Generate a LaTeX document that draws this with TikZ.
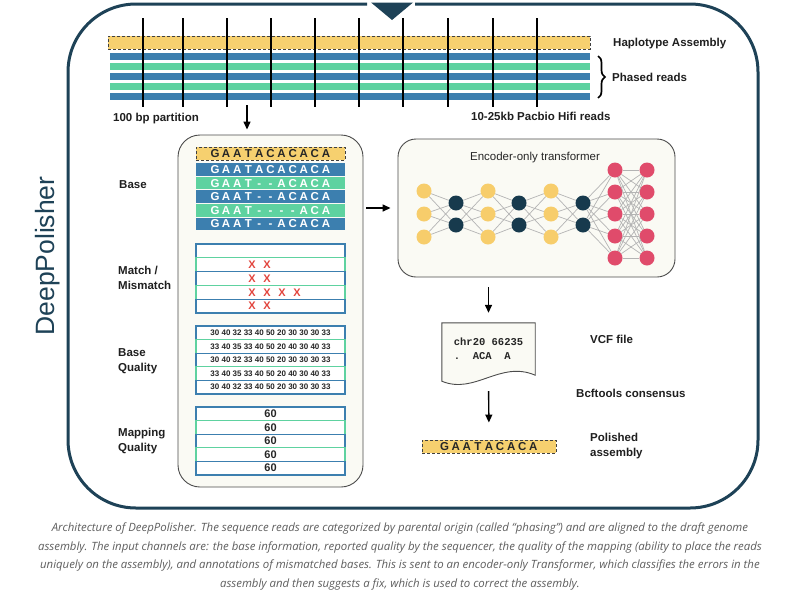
\documentclass[tikz,border=0pt]{standalone}
\usepackage{fontspec}
\setmainfont{Liberation Sans}
\setmonofont{Liberation Mono}
\newfontfamily\capfont{Open Sans}
\usetikzlibrary{arrows.meta,decorations.pathreplacing,calc}
\definecolor{navy}{HTML}{1E4257}
\definecolor{rblue}{HTML}{3C7FAF}
\definecolor{rgreen}{HTML}{5ED2A0}
\definecolor{hapy}{HTML}{F6D06F}
\definecolor{nny}{HTML}{F7CD6B}
\definecolor{nnd}{HTML}{173A4D}
\definecolor{nnp}{HTML}{E04B6B}
\definecolor{cream}{HTML}{FAFAF4}
\definecolor{xred}{HTML}{E2453D}
\definecolor{capgray}{HTML}{5E5E5E}
\definecolor{edgegray}{HTML}{B4B4B4}
\newlength\slotw
\setlength\slotw{11.1pt}
\def\seqloop#1{\ifx#1\relax\else\makebox[\slotw]{#1}\expandafter\seqloop\fi}
\newcommand\seqtxt[1]{\seqloop#1\relax}
\tikzset{
  lbl/.style={anchor=west, font=\bfseries\fontsize{11.5}{15}\selectfont, text=black!88, inner sep=0, align=left},
  arr/.style={-{Triangle[length=8pt,width=7pt]}, line width=1.4pt, black},
  partline/.style={line width=1.6pt, black},
  hapbar/.style={draw=black!75, dash pattern=on 3pt off 2pt, fill=hapy, line width=0.9pt, inner sep=0},
  readbar/.style={inner sep=0, minimum width=480, minimum height=7},
  seqfont/.style={font=\bfseries\fontsize{11.5}{12}\selectfont},
  seqrow/.style={inner sep=0, minimum width=149, minimum height=12.6, text=white, seqfont},
  outrow/.style={inner sep=0, minimum width=149, minimum height=13.8, fill=white, line width=1.3pt},
  qtxt/.style={font=\bfseries\fontsize{8}{10}\selectfont, text=black!85},
  mtxt/.style={font=\bfseries\fontsize{11}{12}\selectfont, text=black!85},
  xmk/.style={font=\bfseries\fontsize{11}{12}\selectfont, text=xred, inner sep=0},
  panelbox/.style={draw=black!70, fill=cream, line width=0.9pt, inner sep=0},
  neur/.style={circle, inner sep=0, minimum size=15},
  nnedge/.style={draw=edgegray, line width=0.7pt},
}
\begin{document}
\begin{tikzpicture}[x=1pt,y=-1pt]
\useasboundingbox (0,0) rectangle (800,600);
\fill[white] (0,0) rectangle (800,600);

% outer frame with pointer
\draw[line width=3pt, navy, rounded corners=68pt] (367,4) -- (68,4) -- (68,508) -- (758,508) -- (758,4) -- (415,4);
\fill[navy] (371,2.5) -- (413,2.5) -- (392,20) -- cycle;
\node[rotate=90, font=\fontsize{26.5}{30}\selectfont, text=navy, inner sep=0] (title) at (48,256) {DeepPolisher};

% top: haplotype + reads
\node[hapbar, minimum width=482, minimum height=13] (hap) at (349,42.5) {};
\foreach \i/\c in {1/rblue,2/rgreen,3/rblue,4/rgreen,5/rblue}
  \node[readbar, fill=\c] (read\i) at (350,{46.5+10*\i}) {};
\foreach \x in {143,183,227,271,315,359,403,448,493,537}
  \draw[partline] (\x,18) -- (\x,107);
\draw[line width=1.7pt, decorate, decoration={brace, amplitude=7pt}] (598,56) -- (598,98);
\node[lbl] (lhap) at (613,44) {Haplotype Assembly};
\node[lbl] (lphase) at (612,77) {Phased reads};
\node[lbl] (lpart) at (113,119) {100 bp partition};
\node[lbl] (lhifi) at (471,116) {10-25kb Pacbio Hifi reads};

% left panel
\node[panelbox, rounded corners=22pt, minimum width=185, minimum height=352] (panel) at (270.5,311) {};
\coordinate (pstart) at (247,105);
\draw[arr, shorten >=5pt] (pstart) -- (pstart |- panel.north);

\node[hapbar, minimum width=149, minimum height=13, seqfont, text=black!85] (hseq) at (270.5,153.5) {\seqtxt{GAATACACACA}};
\node[seqrow, fill=rblue] (b1) at (270.5,169.5) {\seqtxt{GAATACACACA}};
\node[seqrow, fill=rgreen] (b2) at (270.5,183.1) {\seqtxt{GAAT--ACACA}};
\node[seqrow, fill=rblue] (b3) at (270.5,196.7) {\seqtxt{GAAT--ACACA}};
\node[seqrow, fill=rgreen] (b4) at (270.5,210.3) {\seqtxt{GAAT----ACA}};
\node[seqrow, fill=rblue] (b5) at (270.5,223.9) {\seqtxt{GAAT--ACACA}};

\foreach \i/\c in {1/rblue,2/rgreen,3/rblue,4/rgreen,5/rblue}
  \node[outrow, draw=\c] (m\i) at (270.5,{237.1+13.8*\i}) {};
\node[xmk] (x2a) at (252,265) {X};
\node[xmk] (x2b) at (267,265) {X};
\node[xmk] (x3a) at (252,278.5) {X};
\node[xmk] (x3b) at (267,278.5) {X};
\node[xmk] (x4a) at (252,292.3) {X};
\node[xmk] (x4b) at (267,292.3) {X};
\node[xmk] (x4c) at (282,292.3) {X};
\node[xmk] (x4d) at (297,292.3) {X};
\node[xmk] (x5a) at (252,306) {X};
\node[xmk] (x5b) at (267,306) {X};

\foreach \i/\c/\t in {1/rblue/{30 40 32 33 40 50 20 30 30 30 33},2/rgreen/{33 40 35 33 40 50 20 40 30 40 33},3/rblue/{30 40 32 33 40 50 20 30 30 30 33},4/rgreen/{33 40 35 33 40 50 20 40 30 40 33},5/rblue/{30 40 32 33 40 50 20 30 30 30 33}}
  \node[outrow, draw=\c, qtxt, minimum height=13.6] (q\i) at (270.5,{319.2+13.6*\i}) {\t};

\foreach \i/\c in {1/rblue,2/rgreen,3/rblue,4/rgreen,5/rblue}
  \node[outrow, draw=\c, mtxt, minimum height=13.6] (mq\i) at (270.5,{400.2+13.6*\i}) {60};

\node[lbl] (lbase) at (119,185) {Base};
\node[lbl] (lmatch) at (118,277.5) {Match /\\Mismatch};
\node[lbl] (lbq) at (118,361) {Base\\Quality};
\node[lbl] (lmq) at (118,441) {Mapping\\Quality};

% encoder
\node[panelbox, rounded corners=18pt, minimum width=277, minimum height=138] (enc) at (536.5,208) {};
\draw[arr, shorten <=3pt, shorten >=7pt] (panel.east |- enc.west) -- (enc.west);
\node[font=\fontsize{11.5}{14}\selectfont, text=black!85, inner sep=0] (enct) at (535,158) {Encoder-only transformer};

\foreach \n/\x in {1/424,2/488,3/551}{
  \node[neur, fill=nny] (y\n a) at (\x,191) {};
  \node[neur, fill=nny] (y\n b) at (\x,214) {};
  \node[neur, fill=nny] (y\n c) at (\x,237) {};
}
\foreach \n/\x in {1/456,2/519,3/583}{
  \node[neur, fill=nnd] (d\n a) at (\x,203) {};
  \node[neur, fill=nnd] (d\n b) at (\x,225) {};
}
\foreach \n/\x in {1/615,2/647}{
  \node[neur, fill=nnp] (p\n a) at (\x,170) {};
  \node[neur, fill=nnp] (p\n b) at (\x,192) {};
  \node[neur, fill=nnp] (p\n c) at (\x,214) {};
  \node[neur, fill=nnp] (p\n d) at (\x,236) {};
  \node[neur, fill=nnp] (p\n e) at (\x,258) {};
}
\foreach \n in {1,2,3}
  \foreach \u in {a,b,c}
    \foreach \v in {a,b}
      \draw[nnedge] (y\n\u) -- (d\n\v);
\foreach \n/\m in {1/2,2/3}
  \foreach \u in {a,b}
    \foreach \v in {a,b,c}
      \draw[nnedge] (d\n\u) -- (y\m\v);
\foreach \u in {a,b}
  \foreach \v in {a,b,c,d,e}
    \draw[nnedge] (d3\u) -- (p1\v);
\foreach \u in {a,b,c,d,e}
  \foreach \v in {a,b,c,d,e}
    \draw[nnedge] (p1\u) -- (p2\v);

% VCF document
\node[inner sep=0, minimum width=93, minimum height=52] (vcfbox) at (488.5,349) {};
\draw[panelbox] (vcfbox.south east) -- (vcfbox.north east) -- (vcfbox.north west) -- ($(vcfbox.south west)+(0,6)$) .. controls (475,395) and (500,360) .. (vcfbox.south east) -- cycle;
\node[inner sep=0, align=left, font=\ttfamily\bfseries\fontsize{10.5}{14}\selectfont, text=black!85] (vcf) at (488.5,349) {chr20 66235\\.~~ACA~~A};
\draw[arr, shorten <=10pt, shorten >=10pt] (vcfbox.north |- enc.south) -- (vcfbox.north);
\node[lbl] (lvcf) at (590,339) {VCF file};
\node[lbl] (lbcf) at (576,393) {Bcftools consensus};

\node[hapbar, minimum width=134, minimum height=13, seqfont, text=black!85] (pol) at (489,446.5) {\seqtxt{GAATACACA}};
\draw[arr, shorten <=16pt, shorten >=17pt] (vcfbox.south) -- (pol.north);
\node[lbl] (lpol) at (590,446.5) {Polished\\assembly};

% caption
\node[align=center, inner sep=0, text=capgray, font=\capfont\itshape\fontsize{11.4}{18.5}\selectfont] (cap) at (400,556.5) {Architecture of DeepPolisher. The sequence reads are categorized by parental origin (called “phasing”) and are aligned to the draft genome\\assembly. The input channels are: the base information, reported quality by the sequencer, the quality of the mapping (ability to place the reads\\uniquely on the assembly), and annotations of mismatched bases. This is sent to an encoder-only Transformer, which classifies the errors in the\\assembly and then suggests a fix, which is used to correct the assembly.};
\end{tikzpicture}
\end{document}
